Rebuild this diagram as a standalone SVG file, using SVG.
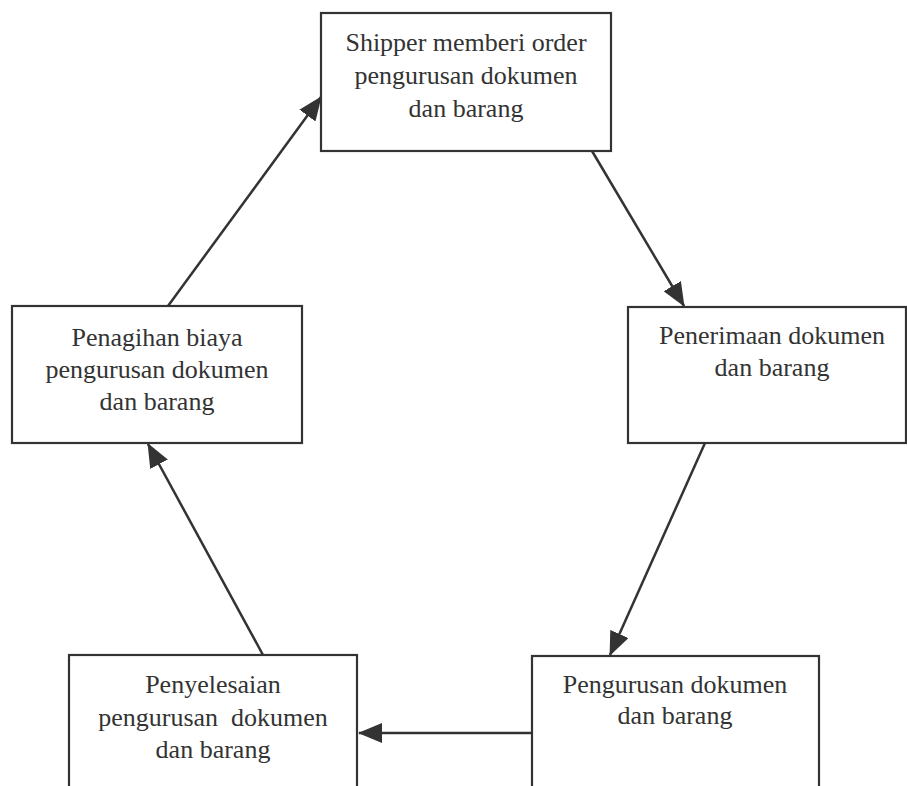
<svg xmlns="http://www.w3.org/2000/svg" width="907" height="786" viewBox="0 0 907 786">
  <style>
    .box { fill: #ffffff; stroke: #333333; stroke-width: 2.2; }
    .lbl { font-family: "Liberation Serif", "Times New Roman", serif; font-size: 26px; fill: #333333; text-anchor: middle; }
    .edge { stroke: #333333; stroke-width: 2.5; fill: none; marker-end: url(#head); }
  </style>
  <defs>
    <marker id="head" markerUnits="userSpaceOnUse" markerWidth="24" markerHeight="20" viewBox="0 0 24 20" refX="23" refY="10" orient="auto">
      <path d="M0,0 L24,10 L0,20 Z" fill="#333333"/>
    </marker>
  </defs>
  <rect width="907" height="786" fill="#ffffff"/>

  <g id="connectors">
    <line class="edge" x1="592" y1="151" x2="684" y2="306"/>
    <line class="edge" x1="705" y1="443" x2="610" y2="655"/>
    <line class="edge" x1="532" y1="733" x2="359" y2="733"/>
    <line class="edge" x1="263" y1="655" x2="148" y2="444"/>
    <line class="edge" x1="168" y1="306" x2="321" y2="97"/>
  </g>

  <g id="node-order">
    <rect class="box" x="321" y="13" width="290" height="138"/>
    <text class="lbl" x="466" y="51">Shipper memberi order</text>
    <text class="lbl" x="466" y="84">pengurusan dokumen</text>
    <text class="lbl" x="466" y="117">dan barang</text>
  </g>

  <g id="node-penerimaan">
    <rect class="box" x="628" y="307" width="278" height="136"/>
    <text class="lbl" x="772" y="344">Penerimaan dokumen</text>
    <text class="lbl" x="772" y="376">dan barang</text>
  </g>

  <g id="node-penagihan">
    <rect class="box" x="12" y="306" width="290" height="137"/>
    <text class="lbl" x="157" y="346">Penagihan biaya</text>
    <text class="lbl" x="157" y="378">pengurusan dokumen</text>
    <text class="lbl" x="157" y="410">dan barang</text>
  </g>

  <g id="node-pengurusan">
    <rect class="box" x="532" y="656" width="287" height="140"/>
    <text class="lbl" x="675" y="693">Pengurusan dokumen</text>
    <text class="lbl" x="675" y="724">dan barang</text>
  </g>

  <g id="node-penyelesaian">
    <rect class="box" x="69" y="655" width="288" height="141"/>
    <text class="lbl" x="213" y="693">Penyelesaian</text>
    <text class="lbl" x="213" y="726" xml:space="preserve">pengurusan  dokumen</text>
    <text class="lbl" x="213" y="758">dan barang</text>
  </g>
</svg>
